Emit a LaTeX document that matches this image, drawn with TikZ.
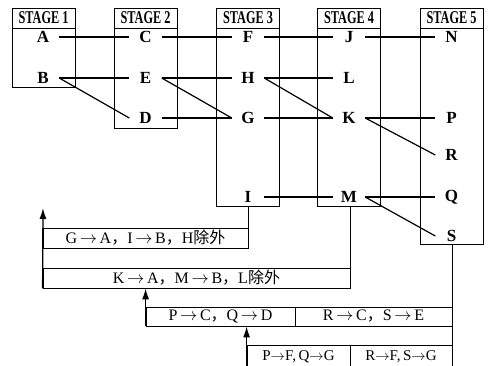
\documentclass[tikz,border=0pt]{standalone}
\usepackage{fontspec}
\usepackage{graphicx}
\setmainfont{Liberation Serif}
\newfontfamily\cjk{Noto Sans CJK SC}
\usetikzlibrary{arrows.meta,positioning}
\newcommand{\stg}[1]{\scalebox{.68}[1]{STAGE #1}}
\newcommand{\fwc}{{\cjk ，}}
\newcommand{\ar}{\,$\to$\,}

\begin{document}
\begin{tikzpicture}[x=1pt,y=-1pt,
    stg/.style={draw,line width=.8pt,minimum width=63pt,inner sep=0pt},
    hd/.style={draw,line width=.8pt,minimum width=63pt,minimum height=20pt,inner sep=0pt,font=\fontsize{18}{18}\selectfont\bfseries},
    lt/.style={minimum width=32pt,inner sep=0pt,font=\fontsize{17}{17}\selectfont\bfseries},
    bx/.style={draw,line width=.8pt,minimum height=20pt,inner sep=0pt,font=\fontsize{16}{16}\selectfont},
    ln/.style={line width=1.2pt},
    a/.style={-{Latex[length=11pt,width=7pt]},line width=1.3pt}]
  \useasboundingbox (0,0) rectangle (492,365);
  % stage boxes
  \node[stg,minimum height=79pt] (s1) at (43.5,47.5) {};
  \node[stg,minimum height=120pt] (s2) at (145.5,68) {};
  \node[stg,minimum height=198pt] (s3) at (248,107) {};
  \node[stg,minimum height=198pt] (s4) at (349,107) {};
  \node[stg,minimum height=236pt] (s5) at (451.5,126) {};
  \node[hd] (h1) at (43.5,18) {\stg{1}};
  \node[hd] (h2) at (145.5,18) {\stg{2}};
  \node[hd] (h3) at (248,18) {\stg{3}};
  \node[hd] (h4) at (349,18) {\stg{4}};
  \node[hd] (h5) at (451.5,18) {\stg{5}};
  % letters
  \node[lt] (A) at (43,37) {A};
  \node[lt] (B) at (43,78) {B};
  \node[lt] (C) at (145.5,37) {C};
  \node[lt] (E) at (145.5,78) {E};
  \node[lt] (D) at (145.5,118) {D};
  \node[lt] (F) at (248,37) {F};
  \node[lt] (H) at (248,78) {H};
  \node[lt] (G) at (248,118) {G};
  \node[lt] (I) at (248,197) {I};
  \node[lt] (J) at (349,37) {J};
  \node[lt] (L) at (349,78) {L};
  \node[lt] (K) at (349,118) {K};
  \node[lt] (M) at (349,197) {M};
  \node[lt] (N) at (451.5,37) {N};
  \node[lt] (P) at (451.5,118) {P};
  \node[lt] (R) at (451.5,155) {R};
  \node[lt] (Q) at (451.5,197) {Q};
  \node[lt] (S) at (451.5,236) {S};
  \draw[ln] (A.east)--(C.west); \draw[ln] (C.east)--(F.west);
  \draw[ln] (F.east)--(J.west); \draw[ln] (J.east)--(N.west);
  \draw[ln] (B.east)--(E.west); \draw[ln] (B.east)--(D.west);
  \draw[ln] (E.east)--(H.west); \draw[ln] (E.east)--(G.west); \draw[ln] (D.east)--(G.west);
  \draw[ln] (H.east)--(L.west); \draw[ln] (H.east)--(K.west); \draw[ln] (G.east)--(K.west);
  \draw[ln] (K.east)--(P.west); \draw[ln] (K.east)--(R.west);
  \draw[ln] (I.east)--(M.west); \draw[ln] (M.east)--(Q.west); \draw[ln] (M.east)--(S.west);
  % exchange boxes
  \node[bx,minimum width=205pt] (ga) at (145.5,238) {G\ar A\fwc I\ar B\fwc H{\cjk 除外}};
  \node[bx,minimum width=307pt] (ka) at (196.5,278) {K\ar A\fwc M\ar B\fwc L{\cjk 除外}};
  \node[bx,minimum width=149pt,minimum height=19pt] (pcl) at (220.5,316.5) {P\ar C\fwc Q\ar D};
  \node[bx,minimum width=157pt,minimum height=19pt] (pcr) at (373.5,316.5) {R\ar C\fwc S\ar E};
  \node[bx,minimum width=103pt,minimum height=22pt,anchor=north,font=\fontsize{15}{15}\selectfont] (pfl) at (298.5,345) {P$\to$F,\,Q$\to$G};
  \node[bx,minimum width=102pt,minimum height=22pt,anchor=north,font=\fontsize{15}{15}\selectfont] (pfr) at (401,345) {R$\to$F,\,S$\to$G};
  \coordinate (t1) at (43,208);
  \draw[ln] (ga.north east |- s3.south) -- (ga.north east);
  \draw[ln] (ka.north east |- s4.south) -- (ka.north east);
  \draw[ln] (pcr.north east |- s5.south) -- (pcr.north east);
  \draw[ln] (pcr.south east) -- (pfr.north east);
  \draw[a] (ka.south west) -- (t1);
  \draw[a] (pcl.south west) -- (pcl.south west |- ka.south);
  \draw[a] (pfl.south west) -- (pfl.south west |- pcl.south);
\end{tikzpicture}
\end{document}
